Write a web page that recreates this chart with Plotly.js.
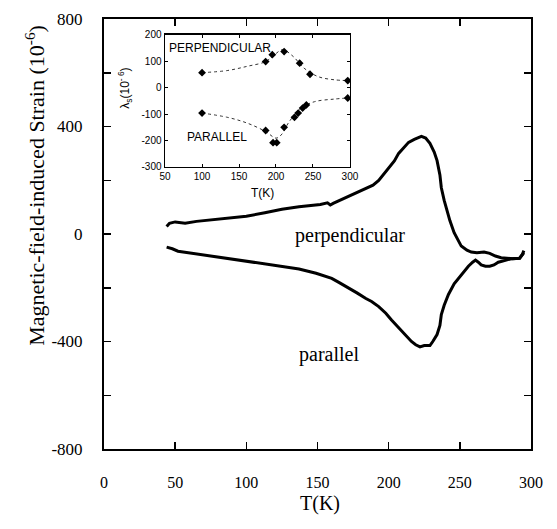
<!DOCTYPE html>
<html>
<head>
<meta charset="utf-8">
<script src="https://cdn.plot.ly/plotly-3.0.1.min.js"></script>
<style>html,body{margin:0;padding:0;background:#fff;}#chart{width:557px;height:529px;}</style>
</head>
<body>
<div id="chart"></div>
<script>
// Main panel: magnetic-field-induced strain vs temperature
const perpT = [44,46,50,57,65,75,89,100,113,125,137,145,152,157,159,161,166,172,178,184,189,193,197,200,204,207,211,214,218,221,223,226,229,232,234,236,237,239,241,243,246,249,251,255,258,262,267,271,275,279,282,287,292,294,295];
const perpV = [28,40,45,40,47,53,60,66,79,92,101,105,110,116,108,114,126,142,155,168,182,199,225,243,272,300,325,341,352,360,363,357,337,305,273,220,172,125,86,50,5,-25,-45,-60,-67,-70,-67,-72,-82,-88,-90,-92,-90,-75,-62];
const paraT = [44,48,52,60,66,78,89,100,113,125,137,149,160,165,172,178,184,188,193,198,202,205,209,213,216,219,222,225,229,231,234,236,237,239,242,246,249,253,256,259,261,263,265,268,271,274,277,282,286,292,295];
const paraV = [-49,-55,-64,-70,-75,-85,-94,-102,-112,-120,-130,-146,-165,-180,-200,-220,-240,-251,-270,-295,-320,-337,-360,-385,-400,-412,-420,-415,-415,-400,-374,-340,-300,-265,-225,-185,-165,-140,-120,-105,-97,-105,-115,-120,-120,-115,-105,-98,-92,-90,-70];

// Inset: saturation magnetostriction lambda_s
const insPerpT = [100,186,195,211,232,246,297];
const insPerpV = [57,99,125,137,93,51,27];
const insParaT = [100,186,196,201,211,225,230,236,241,297];
const insParaV = [-96,-162,-208,-208,-150,-112,-96,-77,-65,-39];
const fitPerpT = [100,134,161,186,198,209,223,238,257,279,297];
const fitPerpV = [57,65,81,99,125,144,119,74,42,30,27];
const fitParaT = [100,134,161,186,200,207,218,234,252,279,297];
const fitParaV = [-96,-112,-134,-166,-191,-179,-128,-77,-53,-43,-39];

const mainYTicks = [-800,-600,-400,-200,0,200,400,600,800];
const mainYLabels = ['-800','','-400','','0','','400','','800'];
const mainXTicks = [0,50,100,150,200,250,300];
const insYTicks = [-300,-200,-100,0,100,200];
const insXTicks = [50,100,150,200,250,300];

const serif = 'Liberation Serif, Times New Roman, serif';
const sans = 'Liberation Sans, Arial, sans-serif';

const traces = [
  {x: perpT, y: perpV, mode: 'lines', line: {color: '#000', width: 3}, xaxis: 'x', yaxis: 'y', name: 'perpendicular'},
  {x: paraT, y: paraV, mode: 'lines', line: {color: '#000', width: 3}, xaxis: 'x', yaxis: 'y', name: 'parallel'},
  {x: fitPerpT, y: fitPerpV, mode: 'lines', line: {color: '#333', width: 1, dash: 'dot', shape: 'spline'}, xaxis: 'x2', yaxis: 'y2'},
  {x: fitParaT, y: fitParaV, mode: 'lines', line: {color: '#333', width: 1, dash: 'dot', shape: 'spline'}, xaxis: 'x2', yaxis: 'y2'},
  {x: insPerpT, y: insPerpV, mode: 'markers', marker: {color: '#000', size: 6, symbol: 'diamond'},
   error_y: {type: 'constant', value: 10, width: 0, thickness: 1.5, color: '#000'}, xaxis: 'x2', yaxis: 'y2'},
  {x: insParaT, y: insParaV, mode: 'markers', marker: {color: '#000', size: 6, symbol: 'diamond'},
   error_y: {type: 'constant', value: 10, width: 0, thickness: 1.5, color: '#000'}, xaxis: 'x2', yaxis: 'y2'}
];

const layout = {
  width: 557, height: 529,
  margin: {l: 104, r: 26, t: 19, b: 80},
  paper_bgcolor: '#fff', plot_bgcolor: '#fff',
  showlegend: false,
  font: {family: serif, color: '#000', size: 16},
  xaxis: {
    domain: [0, 1], range: [0, 300], tickvals: mainXTicks, ticktext: mainXTicks.map(String),
    ticks: 'inside', ticklen: 7, tickwidth: 1.5, tickcolor: '#000',
    showline: true, linecolor: '#000', linewidth: 2, mirror: 'ticks',
    showgrid: false, zeroline: false, ticklabelstandoff: 18,
    tickfont: {family: serif, size: 16, color: '#000'}
  },
  yaxis: {
    domain: [0, 1], range: [-800, 800], tickvals: mainYTicks, ticktext: mainYLabels,
    ticks: 'inside', ticklen: 7, tickwidth: 1.5, tickcolor: '#000',
    showline: true, linecolor: '#000', linewidth: 2, mirror: 'ticks',
    showgrid: false, zeroline: false, ticklabelstandoff: 16,
    tickfont: {family: serif, size: 17, color: '#000'}
  },
  xaxis2: {
    domain: [0.143, 0.576], anchor: 'y2', range: [50, 300], tickvals: insXTicks, ticktext: insXTicks.map(String),
    ticks: 'inside', ticklen: 3, tickwidth: 1, tickcolor: '#000',
    showline: true, linecolor: '#000', linewidth: 1.5, mirror: 'ticks',
    showgrid: false, zeroline: false,
    tickfont: {family: sans, size: 10, color: '#000'}
  },
  yaxis2: {
    domain: [0.656, 0.963], anchor: 'x2', range: [-300, 200], tickvals: insYTicks, ticktext: insYTicks.map(String),
    ticks: 'inside', ticklen: 3, tickwidth: 1, tickcolor: '#000',
    showline: true, linecolor: '#000', linewidth: 1.5, mirror: 'ticks',
    showgrid: false, zeroline: false,
    tickfont: {family: sans, size: 10, color: '#000'}
  },
  annotations: [
    {text: 'Magnetic-field-induced Strain (10<sup>-6</sup>)', xref: 'paper', yref: 'paper', x: -0.162, y: 0.614,
     xanchor: 'center', yanchor: 'middle',
     textangle: -90, showarrow: false, font: {family: serif, size: 22, color: '#000'}},
    {text: 'T(K)', xref: 'paper', yref: 'paper', x: 0.505, y: -0.1256, xanchor: 'center', yanchor: 'middle', showarrow: false,
     font: {family: serif, size: 20, color: '#000'}},
    {text: 'perpendicular', xref: 'x', yref: 'y', x: 173, y: -4, showarrow: false,
     font: {family: serif, size: 20, color: '#000'}},
    {text: 'parallel', xref: 'x', yref: 'y', x: 158, y: -448, showarrow: false,
     font: {family: serif, size: 20, color: '#000'}},
    {text: 'PERPENDICULAR', xref: 'x2', yref: 'y2', x: 52, y: 151, xanchor: 'left', showarrow: false,
     font: {family: sans, size: 12, color: '#000'}},
    {text: 'PARALLEL', xref: 'x2', yref: 'y2', x: 77, y: -188, xanchor: 'left', showarrow: false,
     font: {family: sans, size: 12, color: '#000'}},
    {text: 'T(K)', xref: 'paper', yref: 'paper', x: 0.372, y: 0.595, xanchor: 'center', yanchor: 'middle', showarrow: false,
     font: {family: sans, size: 12, color: '#000'}},
    {text: 'λ<sub>s</sub>(10<sup>- 6</sup>)', xref: 'paper', yref: 'paper', x: 0.049, y: 0.84, xanchor: 'center', yanchor: 'middle',
     textangle: -90, showarrow: false,
     font: {family: sans, size: 12, color: '#000'}}
  ]
};

Plotly.newPlot('chart', traces, layout, {displayModeBar: false, staticPlot: true});
</script>
</body>
</html>
